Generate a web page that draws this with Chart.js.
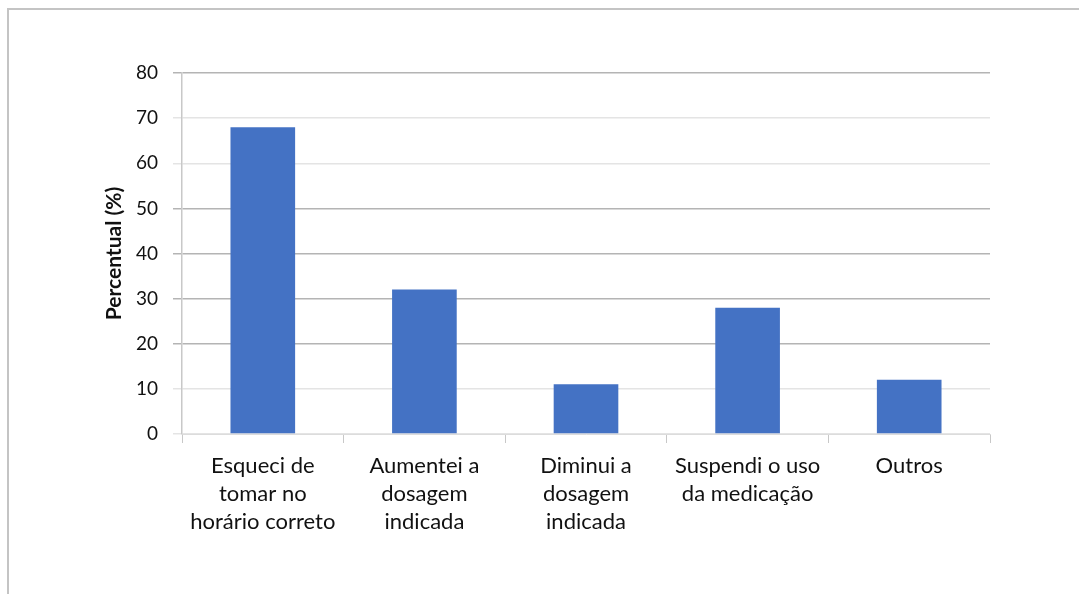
<!DOCTYPE html>
<html>
<head>
<meta charset="utf-8">
<script src="https://cdn.jsdelivr.net/npm/chart.js@4/dist/chart.umd.min.js"></script>
<style>
  html, body { margin: 0; padding: 0; background: #fff; overflow: hidden; }
  #moldura {
    position: absolute; left: 7px; top: 8px; width: 1200px; height: 700px;
    border-left: 2px solid #c4c4c4; border-top: 2px solid #c4c4c4;
  }
  #wrap { position: absolute; left: 0; top: 0; width: 1079px; height: 594px; }
</style>
</head>
<body>
<div id="moldura"></div>
<div id="wrap"><canvas id="grafico" width="1079" height="594"></canvas></div>
<script>
// Categorias e valores (%)
const categorias = [
    ['Esqueci de', 'tomar no', 'horário correto'],
    ['Aumentei a', 'dosagem', 'indicada'],
    ['Diminui a', 'dosagem', 'indicada'],
    ['Suspendi o uso', 'da medicação'],
    ['Outros']
];
const percentuais = [68, 32, 11, 28, 12];
const ticksY = [0, 10, 20, 30, 40, 50, 60, 70, 80];

// Linhas de grade mais escuras em alguns níveis
const gradeEscura = [20, 30, 40, 50, 80];

const ctx = document.getElementById('grafico').getContext('2d');

new Chart(ctx, {
    type: 'bar',
    data: {
        labels: categorias,
        datasets: [{
            label: 'Percentual',
            data: percentuais,
            backgroundColor: '#4472C4',
            borderWidth: 0,
            barPercentage: 0.4,
            categoryPercentage: 1
        }]
    },
    options: {
        responsive: false,
        animation: false,
        layout: { padding: { left: 0, top: 73, right: 89, bottom: 0 } },
        plugins: {
            legend: { display: false },
            tooltip: { enabled: false }
        },
        scales: {
            x: {
                grid: {
                    offset: true,
                    drawOnChartArea: false,
                    drawTicks: true,
                    tickLength: 9,
                    color: '#c8c8c8'
                },
                border: { color: '#dcdcdc', width: 1 },
                ticks: {
                    color: '#111',
                    font: { family: 'Lato', size: 22, lineHeight: 1.28 },
                    maxRotation: 0,
                    autoSkip: false,
                    padding: 9
                },
                afterFit: (scale) => { scale.height = 160; }
            },
            y: {
                min: 0,
                max: 80,
                afterBuildTicks: (scale) => {
                    scale.ticks = ticksY.map(v => ({ value: v }));
                },
                grid: {
                    color: (c) => gradeEscura.includes(c.tick && c.tick.value) ? '#b4b4b4' : '#e4e4e4',
                    lineWidth: 1.5,
                    tickLength: 9
                },
                border: { color: '#c8c8c8', width: 1.5 },
                ticks: {
                    color: '#111',
                    font: { family: 'Lato', size: 19 },
                    padding: 15
                },
                title: {
                    display: true,
                    text: 'Percentual (%)',
                    color: '#111',
                    font: { family: 'Lato', size: 21, weight: 'bold' },
                    padding: { top: 102, bottom: 0 }
                },
                afterFit: (scale) => { scale.width = 182; }
            }
        }
    }
});
</script>
</body>
</html>
